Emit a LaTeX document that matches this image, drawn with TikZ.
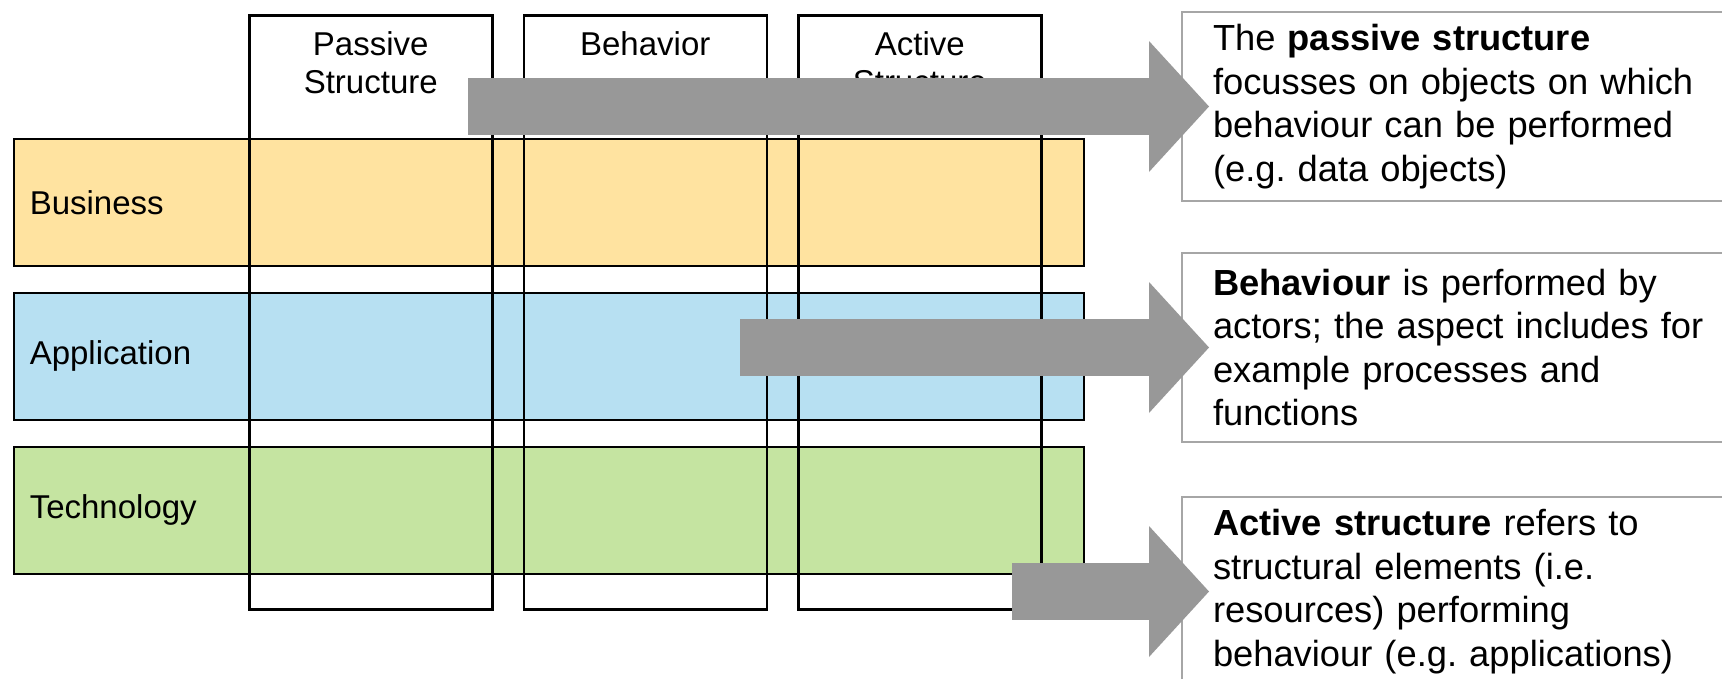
\documentclass[tikz,border=0pt]{standalone}
\usepackage{fontspec}
\setmainfont{Liberation Sans}
\usepackage{tikz}
\usetikzlibrary{positioning,calc,arrows.meta}
\frenchspacing

\definecolor{businessfill}{RGB}{255,227,160}
\definecolor{applicationfill}{RGB}{183,224,242}
\definecolor{technologyfill}{RGB}{197,228,161}
\definecolor{arrowgray}{RGB}{152,152,152}
\definecolor{notegray}{RGB}{166,166,166}

\begin{document}
\begin{tikzpicture}[x = 1pt, y = -1pt,
font = \fontsize{33}{38.5}\selectfont]

\tikzset{
	layer/.style = {
		draw = black, line width = 1.5pt, minimum width = 1070pt,
		minimum height = 127pt, inner xsep = 16pt, text width = 1038pt,
		align = left, anchor = north west
	},
	aspect/.style = {
		draw = black, line width = 2.5pt, minimum width = 243pt,
		minimum height = 594pt, anchor = north west
	},
	aspect_head/.style = {
		align = center, inner sep = 0pt
	},
	note/.style = {
		draw = notegray, line width = 2pt, fill = white, minimum height = 189pt,
		inner xsep = 31pt, text width = 500pt, align = left, anchor = north west,
		font = \fontsize{36.3}{43.5}\selectfont
	},
	big_arrow/.style = {
		draw = arrowgray, line width = 57pt,
		-{Triangle[length = 60pt, width = 131pt, line width = 0pt]}
	}
}

\useasboundingbox (0,0) rectangle (1722,678);
\clip (0,0) rectangle (1722,678);

% Capas
\node[layer, fill = businessfill] (business) at (13,138) {Business};
\node[layer, fill = applicationfill, below = 25.5pt of business] (application) {Application};
\node[layer, fill = technologyfill, below = 25.5pt of application] (technology) {Technology};

% Aspectos
\node[aspect] (passive) at (248,14) {};
\node[aspect, right = 29pt of passive] (behavior) {};
\node[aspect, right = 29pt of behavior] (active) {};
\node[aspect_head, below = 17pt of passive.north] (passive_head) {Passive\\Structure};
\node[aspect_head, below = 17pt of behavior.north] (behavior_head) {Behavior};
\node[aspect_head, below = 17pt of active.north] (active_head) {Active\\Structure};

% Notas
\node[note] (passive_note) at (1181,11) {The \textbf{passive structure}\\focusses on objects on which\\behaviour can be performed\\(e.g. data objects)};
\node[note] (behaviour_note) at (1181,252) {\textbf{Behaviour} is performed by\\actors; the aspect includes for\\example processes and\\functions};
\node[note] (active_note) at (1181,496) {\textbf{Active structure} refers to\\structural elements (i.e.\\resources) performing\\behaviour (e.g. applications)};

% Flechas
\coordinate (passive_tail) at (468,0);
\coordinate (behaviour_tail) at (740,0);
\coordinate (active_tail) at (1012,0);
\draw[big_arrow] (passive_tail |- passive_note.west) -- ([xshift = 28pt]passive_note.west);
\draw[big_arrow] (behaviour_tail |- behaviour_note.west) -- ([xshift = 28pt]behaviour_note.west);
\draw[big_arrow] (active_tail |- active_note.west) -- ([xshift = 28pt]active_note.west);
\end{tikzpicture}
\end{document}
